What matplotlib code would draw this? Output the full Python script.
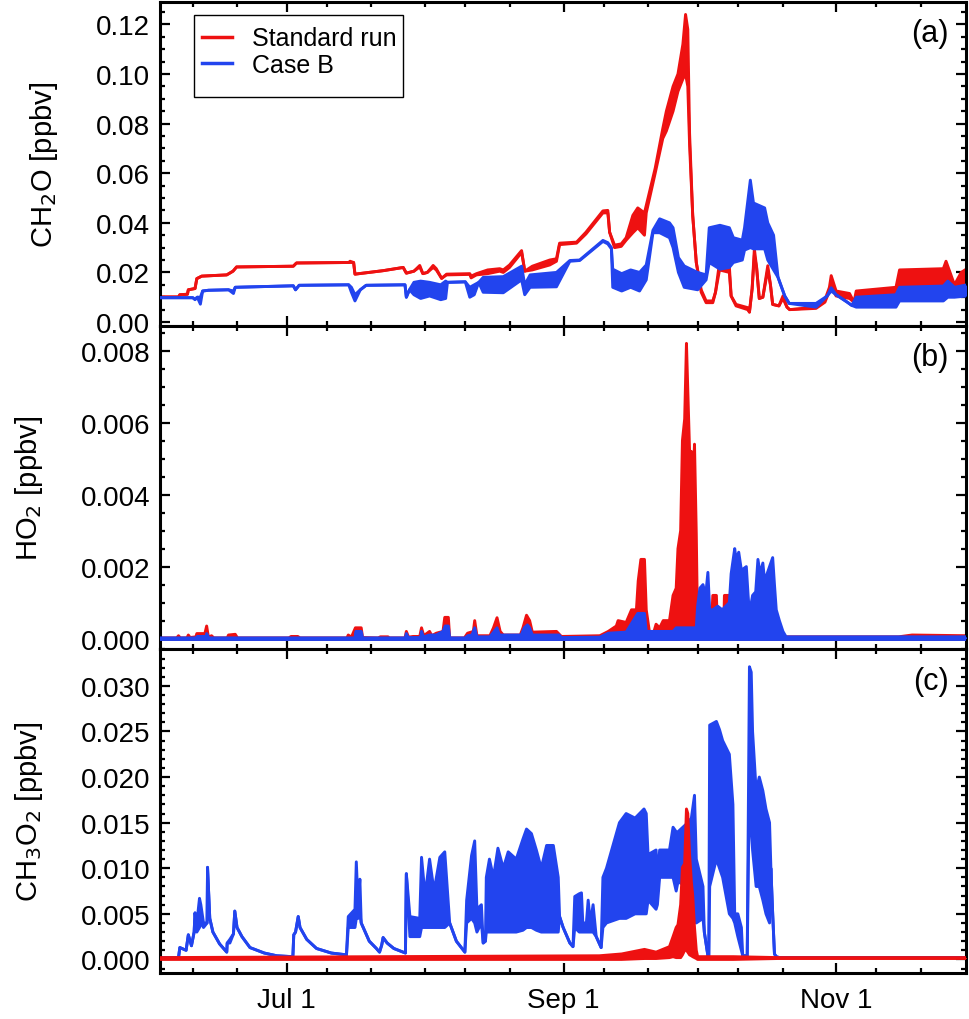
import matplotlib
matplotlib.use("Agg")
import matplotlib.pyplot as plt
import matplotlib.dates as mdates
from matplotlib.lines import Line2D
from matplotlib.patches import Rectangle
import numpy as np

plt.rcParams["font.family"] = ["Liberation Sans", "DejaVu Sans"]

# time axis: days after Jul 1 ; rows are (day, low envelope, high envelope)
ch2o_std = [
    (-28.3, 0.0101, 0.0101), (-24.2, 0.0101, 0.0101), (-23.9, 0.0110, 0.0110),
    (-22.2, 0.0112, 0.0112), (-22.0, 0.0130, 0.0130), (-20.5, 0.0135, 0.0135),
    (-20.1, 0.0175, 0.0175), (-19.0, 0.0185, 0.0185), (-13.4, 0.0190, 0.0190),
    (-12.0, 0.0205, 0.0205), (-11.2, 0.0222, 0.0222), (1.5, 0.0225, 0.0225),
    (2.2, 0.0238, 0.0238), (13.9, 0.0240, 0.0240), (14.2, 0.0240, 0.0245),
    (15.0, 0.0240, 0.0240), (15.3, 0.0193, 0.0193), (21.6, 0.0207, 0.0207),
    (26.1, 0.0220, 0.0220), (26.8, 0.0197, 0.0197), (28.5, 0.0205, 0.0205),
    (29.8, 0.0222, 0.0228), (30.5, 0.0195, 0.0195), (31.5, 0.0200, 0.0200),
    (32.8, 0.0220, 0.0228), (33.5, 0.0210, 0.0215), (34.7, 0.0176, 0.0176),
    (35.8, 0.0190, 0.0193), (41.0, 0.0192, 0.0195), (41.3, 0.0178, 0.0185),
    (42.5, 0.0190, 0.0195), (45.0, 0.0195, 0.0210), (47.7, 0.0205, 0.0215),
    (48.5, 0.0200, 0.0210), (49.9, 0.0220, 0.0230), (52.6, 0.0280, 0.0288),
    (53.0, 0.0240, 0.0240), (53.3, 0.0205, 0.0205), (55.0, 0.0210, 0.0225),
    (58.9, 0.0230, 0.0250), (60.4, 0.0245, 0.0255), (61.1, 0.0312, 0.0318),
    (64.9, 0.0318, 0.0322), (67.0, 0.0355, 0.0362), (70.8, 0.0440, 0.0448),
    (71.9, 0.0440, 0.0450), (72.3, 0.0362, 0.0362), (73.4, 0.0300, 0.0310),
    (74.9, 0.0305, 0.0315), (76.0, 0.0330, 0.0340), (77.5, 0.0360, 0.0430),
    (78.6, 0.0380, 0.0460), (80.1, 0.0350, 0.0440), (80.5, 0.0440, 0.0470),
    (82.5, 0.0600, 0.0620), (84.2, 0.0740, 0.0780), (85.0, 0.0770, 0.0850),
    (86.5, 0.0850, 0.0950), (87.6, 0.0930, 0.1000), (88.7, 0.0980, 0.1120),
    (89.3, 0.1000, 0.1240), (89.8, 0.0950, 0.1180), (90.2, 0.0715, 0.0760),
    (90.9, 0.0430, 0.0430), (91.7, 0.0240, 0.0240), (92.8, 0.0120, 0.0130),
    (93.9, 0.0078, 0.0085), (95.4, 0.0078, 0.0085), (96.0, 0.0120, 0.0120),
    (96.9, 0.0210, 0.0240), (99.1, 0.0200, 0.0225), (99.5, 0.0105, 0.0105),
    (100.6, 0.0065, 0.0071), (103.2, 0.0050, 0.0058), (103.6, 0.0040, 0.0040),
    (104.2, 0.0134, 0.0134), (104.7, 0.0270, 0.0295), (105.2, 0.0220, 0.0220),
    (105.8, 0.0095, 0.0095), (106.6, 0.0100, 0.0100), (107.7, 0.0210, 0.0227),
    (108.3, 0.0150, 0.0150), (108.8, 0.0071, 0.0071), (110.2, 0.0065, 0.0065),
    (111.1, 0.0095, 0.0105), (112.0, 0.0060, 0.0060), (112.6, 0.0050, 0.0050),
    (118.5, 0.0055, 0.0060), (120.5, 0.0080, 0.0090), (121.5, 0.0125, 0.0140),
    (121.9, 0.0140, 0.0187), (123.0, 0.0105, 0.0125), (126.0, 0.0095, 0.0115),
    (127.0, 0.0080, 0.0080), (127.5, 0.0095, 0.0125), (136.4, 0.0105, 0.0140),
    (137.2, 0.0130, 0.0210), (147.0, 0.0135, 0.0215), (147.6, 0.0140, 0.0245),
    (149.5, 0.0120, 0.0150), (151.0, 0.0140, 0.0200), (152.3, 0.0150, 0.0215),
]

ch2o_caseb = [
    (-28.3, 0.0098, 0.0098), (-21.0, 0.0098, 0.0098), (-20.5, 0.0090, 0.0092),
    (-20.0, 0.0100, 0.0100), (-19.3, 0.0072, 0.0100), (-18.8, 0.0125, 0.0125),
    (-17.5, 0.0128, 0.0128), (-13.0, 0.0130, 0.0130), (-11.9, 0.0115, 0.0125),
    (-11.5, 0.0140, 0.0140), (1.5, 0.0146, 0.0146), (2.0, 0.0130, 0.0130),
    (2.8, 0.0148, 0.0148), (13.9, 0.0150, 0.0150), (14.5, 0.0120, 0.0140),
    (15.3, 0.0085, 0.0110), (16.5, 0.0130, 0.0130), (17.8, 0.0148, 0.0148),
    (26.5, 0.0150, 0.0150), (26.8, 0.0100, 0.0100), (27.5, 0.0130, 0.0130),
    (28.5, 0.0110, 0.0160), (30.0, 0.0095, 0.0165), (32.0, 0.0105, 0.0160),
    (34.5, 0.0090, 0.0150), (35.6, 0.0095, 0.0165), (36.0, 0.0160, 0.0160),
    (40.0, 0.0162, 0.0162), (41.0, 0.0100, 0.0140), (42.0, 0.0110, 0.0150),
    (43.0, 0.0160, 0.0160), (44.0, 0.0120, 0.0180), (48.5, 0.0118, 0.0183),
    (52.6, 0.0170, 0.0225), (53.3, 0.0110, 0.0150), (54.5, 0.0140, 0.0190),
    (60.4, 0.0142, 0.0200), (63.4, 0.0245, 0.0248), (65.6, 0.0248, 0.0250),
    (70.8, 0.0325, 0.0329), (71.9, 0.0315, 0.0320), (72.7, 0.0295, 0.0300),
    (73.0, 0.0140, 0.0213), (75.0, 0.0125, 0.0195), (77.0, 0.0140, 0.0210),
    (79.0, 0.0125, 0.0200), (80.5, 0.0170, 0.0230), (82.0, 0.0360, 0.0370),
    (83.5, 0.0360, 0.0416), (85.7, 0.0340, 0.0400), (86.5, 0.0300, 0.0380),
    (87.7, 0.0200, 0.0260), (89.0, 0.0140, 0.0226), (92.0, 0.0130, 0.0200),
    (93.9, 0.0170, 0.0190), (94.6, 0.0240, 0.0380), (97.0, 0.0213, 0.0390),
    (99.1, 0.0220, 0.0380), (100.0, 0.0240, 0.0340), (102.0, 0.0250, 0.0330),
    (102.5, 0.0290, 0.0380), (103.8, 0.0300, 0.0572), (104.5, 0.0295, 0.0480),
    (107.0, 0.0295, 0.0460), (107.7, 0.0250, 0.0400), (109.0, 0.0210, 0.0350),
    (110.0, 0.0180, 0.0180), (111.5, 0.0105, 0.0105), (112.5, 0.0075, 0.0075),
    (118.5, 0.0060, 0.0075), (121.0, 0.0105, 0.0105), (121.9, 0.0125, 0.0138),
    (123.0, 0.0110, 0.0110), (125.5, 0.0080, 0.0080), (126.5, 0.0067, 0.0067),
    (127.5, 0.0060, 0.0100), (136.4, 0.0060, 0.0110), (137.2, 0.0085, 0.0140),
    (147.0, 0.0085, 0.0145), (148.0, 0.0100, 0.0165), (149.5, 0.0100, 0.0140),
    (152.3, 0.0105, 0.0150),
]

# HO2: (day, upper envelope), oscillation reaches down to ~0
ho2_std = [
    (-28.3, 0.00002), (-24.6, 0.00002), (-24.2, 0.00008), (-23.8, 0.00002),
    (-22.3, 0.00002), (-22.0, 0.0001), (-21.6, 0.00003), (-20.3, 0.00005),
    (-20.1, 0.00014), (-18.3, 0.00014), (-17.9, 0.00035), (-17.5, 0.00004),
    (-16.8, 0.00008), (-16.3, 0.00002), (-13.3, 0.00002), (-13.0, 0.0001),
    (-11.5, 0.00012), (-11.0, 0.00002), (0.5, 0.00002), (1.0, 0.00006),
    (2.5, 0.00006), (3.0, 0.00002), (13.5, 0.00002), (13.8, 0.0001),
    (14.5, 0.00004), (15.4, 0.0003), (16.7, 0.0003), (17.0, 0.00003),
    (20.5, 0.00002), (21.0, 0.00005), (22.7, 0.00005), (23.0, 0.00002),
    (26.5, 0.00002), (26.8, 0.0002), (27.3, 0.00004), (28.3, 0.00006),
    (29.8, 0.00006), (30.2, 0.0003), (30.7, 0.00008), (32.0, 0.0002),
    (32.5, 0.00008), (33.5, 0.00015), (35.0, 0.0002), (35.4, 0.00059),
    (36.2, 0.00059), (36.5, 0.00002), (39.8, 0.00002), (40.5, 0.00015),
    (41.8, 0.0002), (42.1, 0.0005), (42.6, 0.00008), (45.5, 0.00008),
    (46.3, 0.0003), (47.1, 0.00058), (47.8, 0.0002), (48.5, 0.0001),
    (52.3, 0.0001), (52.9, 0.0003), (53.7, 0.00065), (54.4, 0.0005),
    (55.0, 0.00018), (60.4, 0.0002), (61.5, 0.00006), (70.1, 0.00008),
    (72.0, 0.0002), (73.8, 0.00035), (74.2, 0.0005), (76.0, 0.00045),
    (77.2, 0.0008), (78.3, 0.0008), (78.7, 0.0016), (79.3, 0.0022),
    (80.1, 0.0022), (80.5, 0.0008), (81.2, 0.0002), (82.0, 0.0001),
    (82.7, 0.0004), (83.5, 0.0003), (84.3, 0.0005), (85.7, 0.0005),
    (86.5, 0.0012), (87.2, 0.0014), (87.6, 0.0025), (88.2, 0.0030),
    (88.6, 0.0055), (89.1, 0.0061), (89.5, 0.0082), (89.8, 0.0069),
    (90.2, 0.0052), (90.6, 0.0052), (90.9, 0.0040), (91.3, 0.0054),
    (91.7, 0.0029), (92.0, 0.0002), (95.0, 0.0001), (95.4, 0.0012),
    (96.2, 0.0012), (96.5, 0.0001), (97.8, 0.0001), (98.0, 0.0012),
    (99.1, 0.0012), (99.4, 0.0001), (103.6, 0.0002), (106.0, 0.0002),
    (107.0, 0.0001), (111.0, 0.00005), (137.0, 0.00005), (140.0, 0.0001),
    (152.3, 0.00008),
]

ho2_caseb = [
    (-28.3, 0.00002), (-20.3, 0.00002), (-20.0, 0.00006), (-18.0, 0.00006),
    (-17.9, 0.00014), (-17.4, 0.00002), (15.3, 0.00002), (15.5, 0.0002),
    (16.7, 0.0002), (17.0, 0.00002), (26.6, 0.00002), (26.8, 0.00014),
    (27.2, 0.00003), (30.0, 0.00003), (30.2, 0.0002), (30.6, 0.00005),
    (32.0, 0.0001), (33.5, 0.0001), (35.0, 0.0002), (35.5, 0.00035),
    (36.2, 0.00035), (36.5, 0.00002), (40.0, 0.00002), (40.5, 0.00008),
    (41.5, 0.0001), (42.1, 0.0003), (42.6, 0.00005), (45.5, 0.00005),
    (47.1, 0.0003), (47.6, 0.0001), (52.5, 0.0001), (53.2, 0.0003),
    (53.9, 0.00038), (54.4, 0.0003), (55.0, 0.0001), (61.0, 0.0001),
    (61.5, 0.00003), (70.1, 0.00004), (72.0, 0.00015), (76.0, 0.00018),
    (78.6, 0.0007), (80.1, 0.0007), (80.5, 0.0002), (86.5, 0.0002),
    (87.2, 0.0003), (91.7, 0.0003), (92.0, 0.0009), (92.5, 0.0014),
    (93.2, 0.0015), (93.8, 0.0012), (94.3, 0.00184), (94.7, 0.0008),
    (95.4, 0.0008), (96.5, 0.0009), (97.5, 0.0008), (99.1, 0.0010),
    (99.5, 0.0018), (100.3, 0.0025), (100.6, 0.0022), (101.2, 0.0024),
    (101.8, 0.0019), (102.9, 0.0020), (103.3, 0.0012), (103.6, 0.0007),
    (104.3, 0.0012), (105.0, 0.0013), (105.5, 0.0022), (106.0, 0.0018),
    (106.6, 0.0021), (107.0, 0.0016), (108.1, 0.0020), (108.8, 0.00225),
    (109.2, 0.0015), (109.6, 0.0008), (110.3, 0.0005), (111.1, 0.0002),
    (111.8, 0.00005), (152.3, 0.00005),
]

ch3o2_std = [
    (-28.3, 0.0000, 0.0002), (70.0, 0.0000, 0.0004), (75.0, 0.0000, 0.0006),
    (80.1, 0.0001, 0.0011), (82.7, 0.0001, 0.0008), (85.7, 0.0002, 0.0014),
    (86.5, 0.0003, 0.0025), (87.2, 0.0002, 0.0035), (87.6, 0.0002, 0.0038),
    (88.2, 0.0002, 0.0060), (88.6, 0.0005, 0.0101), (89.1, 0.0010, 0.0105),
    (89.5, 0.0010, 0.0165), (89.8, 0.0008, 0.0160), (90.2, 0.0005, 0.0115),
    (90.6, 0.0004, 0.0085), (90.9, 0.0003, 0.0070), (91.3, 0.0002, 0.0035),
    (91.7, 0.0001, 0.0010), (92.0, 0.0000, 0.0003), (100.0, 0.0000, 0.0003),
    (110.0, 0.0001, 0.0002), (152.3, 0.0001, 0.0002),
]

ch3o2_caseb = [
    (-28.3, 0.0002, 0.0002), (-24.2, 0.0002, 0.0002), (-23.9, 0.0013, 0.0013),
    (-22.5, 0.0010, 0.0010), (-22.0, 0.0027, 0.0027), (-21.3, 0.0015, 0.0015),
    (-20.7, 0.0030, 0.0030), (-20.5, 0.0051, 0.0051), (-20.1, 0.0030, 0.0040),
    (-19.5, 0.0035, 0.0067), (-19.2, 0.0040, 0.0060), (-18.6, 0.0035, 0.0040),
    (-17.8, 0.0040, 0.0040), (-17.7, 0.0101, 0.0101), (-17.2, 0.0045, 0.0045),
    (-16.5, 0.0030, 0.0030), (-15.0, 0.0017, 0.0017), (-13.4, 0.0008, 0.0008),
    (-13.3, 0.0018, 0.0018), (-12.7, 0.0018, 0.0022), (-11.9, 0.0028, 0.0028),
    (-11.6, 0.0053, 0.0053), (-11.1, 0.0035, 0.0035), (-10.0, 0.0025, 0.0025),
    (-8.2, 0.0013, 0.0013), (-5.0, 0.0007, 0.0007), (-2.2, 0.0004, 0.0004),
    (1.4, 0.0003, 0.0003), (1.6, 0.0027, 0.0027), (2.0, 0.0030, 0.0030),
    (2.6, 0.0047, 0.0047), (3.0, 0.0035, 0.0035), (4.5, 0.0022, 0.0022),
    (6.7, 0.0012, 0.0012), (10.0, 0.0007, 0.0007), (13.4, 0.0005, 0.0005),
    (13.8, 0.0035, 0.0047), (15.3, 0.0035, 0.0055), (15.6, 0.0045, 0.0107),
    (16.0, 0.0045, 0.0060), (16.4, 0.0050, 0.0088), (16.7, 0.0040, 0.0040),
    (18.5, 0.0020, 0.0020), (20.1, 0.0012, 0.0012), (20.8, 0.0008, 0.0008),
    (21.3, 0.0016, 0.0016), (21.6, 0.0024, 0.0024), (22.5, 0.0018, 0.0018),
    (24.0, 0.0012, 0.0012), (26.6, 0.0007, 0.0007), (26.8, 0.0094, 0.0094),
    (27.6, 0.0025, 0.0047), (29.8, 0.0025, 0.0045), (30.2, 0.0035, 0.0112),
    (31.0, 0.0035, 0.0070), (32.0, 0.0035, 0.0110), (33.0, 0.0035, 0.0075),
    (34.3, 0.0035, 0.0112), (35.4, 0.0035, 0.0118), (36.5, 0.0040, 0.0040),
    (38.0, 0.0020, 0.0020), (39.9, 0.0008, 0.0008), (40.3, 0.0040, 0.0065),
    (41.4, 0.0045, 0.0114), (42.1, 0.0040, 0.0130), (42.6, 0.0030, 0.0055),
    (43.6, 0.0040, 0.0060), (44.0, 0.0018, 0.0018), (44.5, 0.0020, 0.0020),
    (44.7, 0.0030, 0.0090), (45.4, 0.0030, 0.0110), (46.3, 0.0030, 0.0090),
    (47.3, 0.0030, 0.0122), (48.5, 0.0030, 0.0100), (49.6, 0.0030, 0.0118),
    (51.4, 0.0030, 0.0110), (52.9, 0.0032, 0.0132), (53.7, 0.0035, 0.0143),
    (54.8, 0.0035, 0.0138), (55.9, 0.0032, 0.0120), (57.0, 0.0030, 0.0100),
    (58.2, 0.0030, 0.0125), (59.7, 0.0030, 0.0125), (60.8, 0.0030, 0.0090),
    (61.1, 0.0047, 0.0047), (61.9, 0.0035, 0.0035), (63.4, 0.0018, 0.0018),
    (64.1, 0.0014, 0.0014), (64.5, 0.0035, 0.0069), (65.5, 0.0030, 0.0072),
    (66.0, 0.0030, 0.0073), (66.3, 0.0030, 0.0040), (67.1, 0.0030, 0.0040),
    (67.5, 0.0030, 0.0065), (68.0, 0.0030, 0.0040), (68.6, 0.0030, 0.0060),
    (69.3, 0.0025, 0.0025), (70.4, 0.0013, 0.0013), (70.8, 0.0035, 0.0090),
    (71.6, 0.0040, 0.0100), (74.5, 0.0045, 0.0150), (76.0, 0.0045, 0.0160),
    (78.0, 0.0050, 0.0155), (80.0, 0.0050, 0.0165), (80.5, 0.0050, 0.0160),
    (80.9, 0.0065, 0.0115), (82.7, 0.0055, 0.0120), (83.0, 0.0060, 0.0090),
    (83.5, 0.0090, 0.0120), (85.7, 0.0090, 0.0120), (86.5, 0.0090, 0.0145),
    (87.2, 0.0075, 0.0140), (87.6, 0.0085, 0.0140), (89.8, 0.0080, 0.0150),
    (90.6, 0.0060, 0.0155), (91.3, 0.0050, 0.0180), (91.7, 0.0040, 0.0110),
    (93.2, 0.0045, 0.0080), (93.5, 0.0030, 0.0030), (94.3, 0.0004, 0.0004),
    (94.5, 0.0004, 0.0004), (94.7, 0.0080, 0.0257), (96.2, 0.0110, 0.0261),
    (96.9, 0.0100, 0.0252), (97.6, 0.0090, 0.0240), (99.1, 0.0050, 0.0225),
    (99.9, 0.0045, 0.0170), (100.3, 0.0040, 0.0050), (101.0, 0.0025, 0.0050),
    (101.8, 0.0010, 0.0035), (102.1, 0.0004, 0.0004), (103.1, 0.0004, 0.0004),
    (103.4, 0.0120, 0.0200), (103.6, 0.0150, 0.0321), (104.0, 0.0150, 0.0315),
    (104.3, 0.0120, 0.0250), (105.1, 0.0080, 0.0185), (105.8, 0.0080, 0.0200),
    (106.6, 0.0065, 0.0185), (107.3, 0.0050, 0.0165), (108.1, 0.0040, 0.0150),
    (108.4, 0.0100, 0.0100), (108.8, 0.0050, 0.0050), (109.2, 0.0006, 0.0006),
    (109.6, 0.0003, 0.0003), (110.3, 0.0002, 0.0002), (152.3, 0.0002, 0.0002),
]

labels = ["Standard run", "Case B"]
red = "#ee1111"
blue = "#2244ee"
t0 = mdates.date2num(np.datetime64("2001-07-01"))


def band(ax, rows, color, z):
    a = np.array(rows, dtype=float)
    x = t0 + a[:, 0]
    if a.shape[1] == 2:
        lo = np.zeros(len(a))
        hi = a[:, 1]
    else:
        lo, hi = a[:, 1], a[:, 2]
    ax.fill_between(x, lo, hi, color=color, lw=0, zorder=z)
    ax.plot(x, hi, color=color, lw=2.1, zorder=z)
    ax.plot(x, lo, color=color, lw=2.1, zorder=z)


fig, axes = plt.subplots(3, 1, figsize=(9.7, 10.2), dpi=100, sharex=True)
fig.subplots_adjust(left=0.165, right=0.996, top=0.997, bottom=0.045, hspace=0)

band(axes[0], ch2o_std, red, 2)
band(axes[0], ch2o_caseb, blue, 3)
band(axes[1], ho2_std, red, 2)
band(axes[1], ho2_caseb, blue, 3)
band(axes[2], ch3o2_caseb, blue, 2)
band(axes[2], ch3o2_std, red, 3)

ylims = [(-0.0015, 0.129), (-0.0003, 0.00869), (-0.0015, 0.034)]
majors = [0.02, 0.002, 0.005]
minors = [0.005, 0.0005, 0.001]
fmts = ["%.2f", "%.3f", "%.3f"]
ylabels = ["CH$_2$O [ppbv]", "HO$_2$ [ppbv]", "CH$_3$O$_2$ [ppbv]"]
tags = ["(a)", "(b)", "(c)"]

for i, ax in enumerate(axes):
    ax.set_ylim(*ylims[i])
    ax.yaxis.set_major_locator(matplotlib.ticker.MultipleLocator(majors[i]))
    ax.yaxis.set_minor_locator(matplotlib.ticker.MultipleLocator(minors[i]))
    ax.yaxis.set_major_formatter(matplotlib.ticker.FormatStrFormatter(fmts[i]))
    ax.set_ylabel(ylabels[i], fontsize=21, labelpad=26)
    ax.tick_params(which="both", direction="in", top=True, right=True,
                   labelsize=20, width=1.6)
    ax.tick_params(which="major", length=7)
    ax.tick_params(which="minor", length=3.5)
    ax.tick_params(axis="y", pad=7)
    ax.tick_params(axis="x", pad=10)
    for s in ax.spines.values():
        s.set_linewidth(2.2)
    ax.text(0.978, 0.95, tags[i], transform=ax.transAxes, ha="right",
            va="top", fontsize=22)

ax = axes[2]
ax.set_xlim(t0 - 28.33, t0 + 152.1)
ax.xaxis.set_major_locator(mdates.MonthLocator(bymonth=[7, 9, 11]))
ax.xaxis.set_minor_locator(mdates.DayLocator(bymonthday=[1, 10, 20]))
ax.xaxis.set_major_formatter(mdates.DateFormatter("%b %-d"))

handles = [Line2D([], [], color=red, lw=2.5), Line2D([], [], color=blue, lw=2.5)]
axes[0].add_patch(Rectangle((0.042, 0.707), 0.259, 0.253, transform=axes[0].transAxes,
                            fill=False, edgecolor="black", lw=1.0, zorder=5))
axes[0].legend(handles, labels, loc="upper left", bbox_to_anchor=(0.052, 0.925),
               frameon=False, fontsize=18, handlelength=1.2, handletextpad=0.8,
               labelspacing=0.1, borderpad=0, borderaxespad=0)

fig.savefig("out.png", dpi=100)
